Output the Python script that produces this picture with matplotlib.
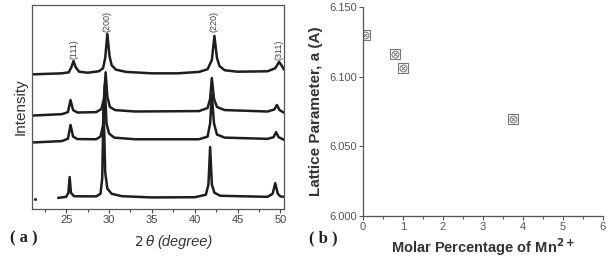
import matplotlib
matplotlib.use("Agg")
import matplotlib.pyplot as plt
from matplotlib.ticker import MultipleLocator

plt.rcParams['font.family'] = ['Liberation Sans', 'DejaVu Sans']

# ---- panel (a): XRD traces (x in degrees, y in arbitrary units, offset) ----
x_top = [21.0, 24.5, 25.3, 25.6, 25.85, 26.1, 26.5, 27.5, 28.8, 29.3, 29.55, 29.8, 30.05,
         30.3, 30.8, 32.0, 35.0, 38.0, 40.5, 41.5, 42.0, 42.3, 42.6, 42.9, 43.5, 45.0,
         48.5, 49.4, 49.85, 50.2, 50.4]
y_top = [66.0, 66.5, 67.0, 69.5, 72.5, 69.5, 67.3, 66.8, 67.5, 69.0, 74.0, 85.8, 75.0,
         70.5, 68.3, 67.2, 66.5, 66.5, 67.2, 68.5, 73.0, 84.8, 74.0, 70.0, 68.0, 67.3,
         67.5, 69.0, 72.1, 70.0, 68.5]

x_2 = [21.0, 24.5, 25.2, 25.5, 25.8, 26.3, 28.5, 29.1, 29.4, 29.6, 29.8, 30.1, 30.7,
       33.0, 40.5, 41.5, 41.8, 42.0, 42.25, 42.6, 43.5, 48.5, 49.3, 49.6, 49.9, 50.4]
y_2 = [45.8, 46.5, 47.5, 53.4, 48.5, 47.3, 47.5, 49.0, 54.0, 67.0, 55.0, 50.0, 48.5,
       47.8, 48.0, 49.5, 54.0, 64.2, 54.0, 50.0, 48.5, 47.8, 48.8, 51.0, 48.5, 47.3]

x_3 = [21.0, 24.5, 25.2, 25.5, 25.8, 26.3, 28.5, 29.0, 29.3, 29.5, 29.7, 30.0, 30.6,
       33.0, 40.5, 41.5, 41.8, 42.0, 42.25, 42.6, 43.5, 48.5, 49.2, 49.5, 49.8, 50.4]
y_3 = [32.6, 33.3, 34.5, 41.2, 35.5, 34.3, 34.2, 35.5, 41.0, 60.8, 42.0, 37.0, 35.0,
       34.2, 34.2, 35.5, 42.0, 55.9, 42.0, 36.5, 35.0, 34.4, 35.2, 37.7, 35.2, 34.0]

x_bot = [24.1, 25.0, 25.25, 25.4, 25.55, 25.9, 28.5, 29.0, 29.2, 29.36, 29.55, 29.8, 30.3,
         31.5, 35.0, 40.0, 41.3, 41.6, 41.8, 42.0, 42.3, 43.0, 48.5, 49.1, 49.4, 49.7,
         50.0, 50.4]
y_bot = [5.5, 6.0, 8.0, 15.7, 8.0, 6.3, 6.2, 7.5, 15.0, 51.0, 18.0, 10.0, 7.5,
         6.3, 5.7, 5.8, 7.0, 12.0, 30.4, 12.0, 8.0, 6.5, 6.0, 7.5, 12.7, 7.5,
         6.2, 6.0]

peak_labels = ['(111)', '(200)', '(220)', '(311)']
peak_label_x = [25.85, 29.8, 42.3, 49.85]
peak_label_y = [78.5, 92.0, 92.0, 78.0]

# ---- panel (b): lattice parameter ----
mn_pct = [0.06, 0.8, 1.0, 3.75]
lattice_a = [6.130, 6.116, 6.106, 6.070]

fig = plt.figure(figsize=(6.09, 2.61), dpi=100)

ink = '#1e1e1e'
ax1 = fig.add_axes([0.0525, 0.199, 0.4135, 0.782])
for xs, ys in [(x_top, y_top), (x_2, y_2), (x_3, y_3), (x_bot, y_bot)]:
    ax1.plot(xs, ys, color=ink, lw=1.8, solid_joinstyle='round')
ax1.plot([21.4], [5.0], 's', color=ink, ms=1.0)
for lab, px, py in zip(peak_labels, peak_label_x, peak_label_y):
    ax1.text(px, py, lab, rotation=90, ha='center', va='center', fontsize=6.5, color='#444')
ax1.set_xlim(21.0, 50.4)
ax1.set_ylim(0, 100)
ax1.set_yticks([])
ax1.xaxis.set_major_locator(MultipleLocator(5))
ax1.xaxis.set_minor_locator(MultipleLocator(2.5))
ax1.tick_params(axis='x', direction='out', length=3, width=0.8, labelsize=8,
                colors='#444', pad=1.5)
ax1.tick_params(axis='x', which='minor', direction='out', length=2, width=0.8, colors='#444')
for s in ax1.spines.values():
    s.set_color('#555')
    s.set_linewidth(0.9)
ax1.set_ylabel('Intensity', fontsize=11, color='#333', labelpad=3)
fig.text(0.255, 0.075, r'$\mathit{2\,\theta}$ ', fontsize=10, color='#333',
         ha='right', va='center', family='DejaVu Serif')
fig.text(0.258, 0.072, '(degree)', fontsize=10.5, style='italic', color='#333',
         ha='left', va='center')
fig.text(0.016, 0.085, '( a )', fontsize=12, fontweight='bold', color='#222',
         ha='left', va='center', family='Liberation Serif')

ax2 = fig.add_axes([0.596, 0.172, 0.394, 0.801])
mk = '#777'
ax2.plot(mn_pct, lattice_a, 's', ms=7.5, mfc='none', mec=mk, mew=0.8, ls='none')
ax2.plot(mn_pct, lattice_a, 'o', ms=5, mfc='none', mec=mk, mew=0.7, ls='none')
ax2.plot(mn_pct, lattice_a, 'x', ms=3.5, mec=mk, mew=0.7, ls='none')
ax2.set_xlim(0, 6)
ax2.set_ylim(6.000, 6.150)
ax2.set_yticks([6.000, 6.050, 6.100, 6.150])
ax2.set_yticklabels(['6.000', '6.050', '6.100', '6.150'])
ax2.xaxis.set_major_locator(MultipleLocator(1))
ax2.xaxis.set_minor_locator(MultipleLocator(0.5))
ax2.spines['top'].set_visible(False)
ax2.spines['right'].set_visible(False)
for s in ['left', 'bottom']:
    ax2.spines[s].set_color('#555')
    ax2.spines[s].set_linewidth(0.9)
ax2.tick_params(direction='out', length=3, width=0.8, labelsize=8, colors='#555', pad=1.5)
ax2.tick_params(which='minor', direction='out', length=2, width=0.8, colors='#555')
ax2.set_ylabel('Lattice Parameter, a (A)', fontsize=11, fontweight='bold', color='#333',
               labelpad=4)
ax2.set_xlabel(r'Molar Percentage of Mn$^{\mathbf{2+}}$', fontsize=10.5, fontweight='bold',
               color='#333', labelpad=3)
fig.text(0.508, 0.085, '( b )', fontsize=12, fontweight='bold', color='#222',
         ha='left', va='center', family='Liberation Serif')

fig.savefig('out.png', dpi=100)
